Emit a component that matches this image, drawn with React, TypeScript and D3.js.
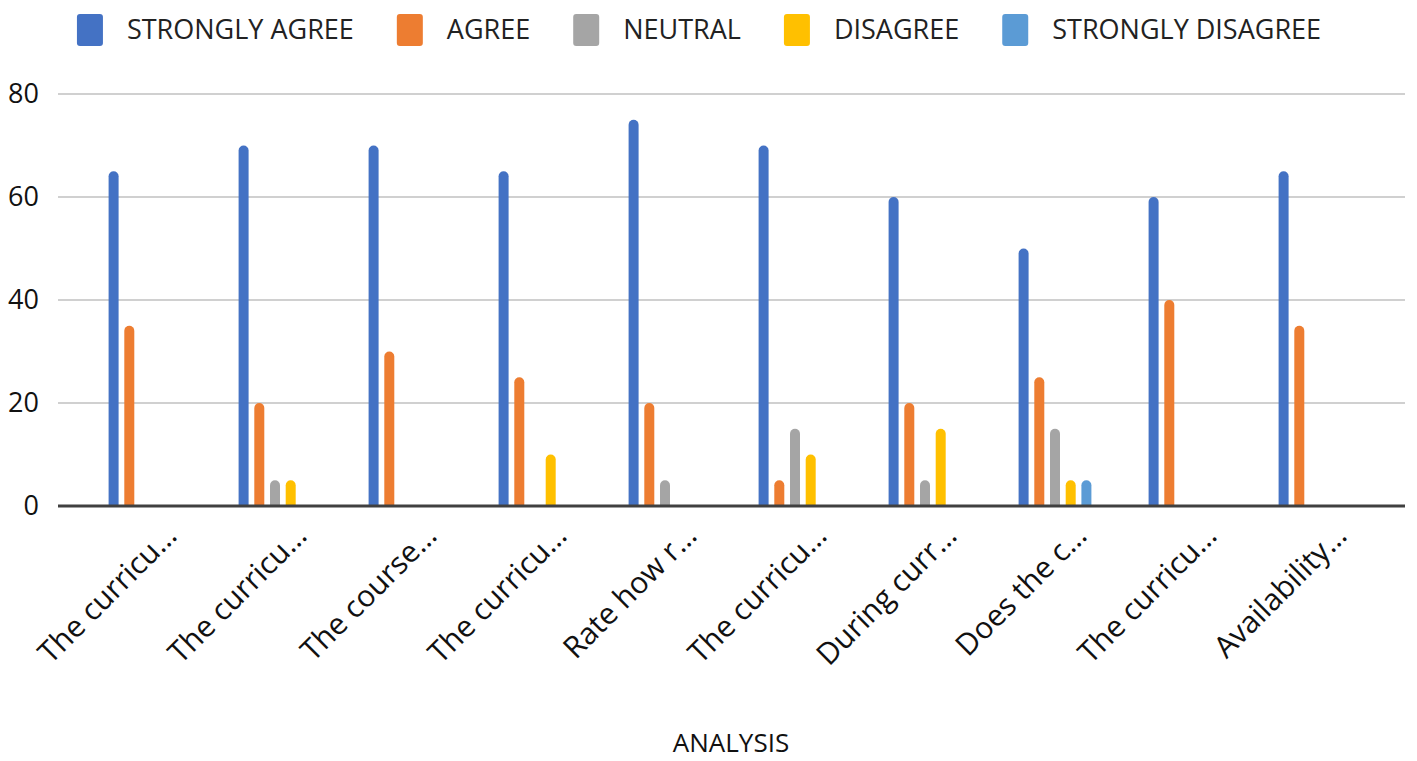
import React, { useEffect, useRef } from "react";
import * as d3 from "d3";

const categories = [
  "The curricu…",
  "The curricu…",
  "The course…",
  "The curricu…",
  "Rate how r…",
  "The curricu…",
  "During curr…",
  "Does the c…",
  "The curricu…",
  "Availability…",
];
const series = ["STRONGLY AGREE", "AGREE", "NEUTRAL", "DISAGREE", "STRONGLY DISAGREE"];
const colors = ["#4472C4", "#ED7D31", "#A5A5A5", "#FFC000", "#5B9BD5"];

const stronglyAgree = [65, 70, 70, 65, 75, 70, 60, 50, 60, 65];
const agree = [35, 20, 30, 25, 20, 5, 20, 25, 40, 35];
const neutral = [0, 5, 0, 0, 5, 15, 5, 15, 0, 0];
const disagree = [0, 5, 0, 10, 0, 10, 15, 5, 0, 0];
const stronglyDisagree = [0, 0, 0, 0, 0, 0, 0, 5, 0, 0];
const yTicks = [0, 20, 40, 60, 80];
const xTitle = "ANALYSIS";

const FONT = "'Open Sans', sans-serif";

const App = () => {
  const svgRef = useRef<SVGSVGElement>(null);

  useEffect(() => {
    const svg = d3.select(svgRef.current);
    svg.selectAll("*").remove();

    const values = [stronglyAgree, agree, neutral, disagree, stronglyDisagree];

    // plot box
    const left = 58;
    const right = 1405;
    const y = d3.scaleLinear().domain([0, 80]).range([506, 94]);
    const x = d3
      .scaleBand<number>()
      .domain(categories.map((_, i) => i))
      .range([80, 1380]);
    const inner = d3
      .scalePoint<string>()
      .domain(series)
      .range([-31.4, 31.4]);
    const barW = 10;

    // gridlines
    svg
      .append("g")
      .selectAll("line")
      .data(yTicks.filter((t) => t !== 0))
      .join("line")
      .attr("x1", left)
      .attr("x2", right)
      .attr("y1", (d) => y(d))
      .attr("y2", (d) => y(d))
      .attr("stroke", "#d0d0d0")
      .attr("stroke-width", 2);

    // y tick labels
    svg
      .append("g")
      .selectAll("text")
      .data(yTicks)
      .join("text")
      .attr("x", 39)
      .attr("y", (d) => y(d))
      .attr("dy", "0.35em")
      .attr("text-anchor", "end")
      .attr("font-family", FONT)
      .attr("font-size", 27)
      .attr("fill", "#111")
      .text((d) => d);

    // bars with rounded tops
    const barPath = (x0: number, top: number, base: number, w: number) => {
      const r = w / 2;
      return `M${x0},${base}L${x0},${top + r}A${r},${r} 0 0 1 ${x0 + w},${top + r}L${x0 + w},${base}Z`;
    };

    series.forEach((s, si) => {
      svg
        .append("g")
        .selectAll("path")
        .data(values[si].map((v, i) => ({ v, i })).filter((d) => d.v > 0))
        .join("path")
        .attr("fill", colors[si])
        .attr("d", (d) => {
          const cx = (x(d.i) as number) + x.bandwidth() / 2 + (inner(s) as number);
          return barPath(cx - barW / 2, y(d.v), y(0), barW);
        });
    });

    // zero axis line
    svg
      .append("line")
      .attr("x1", left)
      .attr("x2", right)
      .attr("y1", y(0))
      .attr("y2", y(0))
      .attr("stroke", "#404040")
      .attr("stroke-width", 3);

    // category labels
    svg
      .append("g")
      .selectAll("text")
      .data(categories)
      .join("text")
      .attr("transform", (_, i) => {
        const cx = (x(i) as number) + x.bandwidth() / 2;
        return `translate(${cx + 26},${y(0) + 24}) rotate(-45)`;
      })
      .attr("text-anchor", "end")
      .attr("dy", "0.35em")
      .attr("font-family", FONT)
      .attr("font-size", 30)
      .attr("fill", "#111")
      .text((d) => d);

    // axis title
    svg
      .append("text")
      .attr("x", 731)
      .attr("y", 743)
      .attr("dy", "0.35em")
      .attr("text-anchor", "middle")
      .attr("font-family", FONT)
      .attr("font-size", 26)
      .attr("fill", "#111")
      .text(xTitle);

    // legend
    const legend = svg.append("g");
    let cursor = 0;
    series.forEach((s, i) => {
      const g = legend.append("g").attr("transform", `translate(${cursor},0)`);
      g.append("rect")
        .attr("x", 0)
        .attr("y", 14)
        .attr("width", 26)
        .attr("height", 32)
        .attr("rx", 3)
        .attr("fill", colors[i]);
      const t = g
        .append("text")
        .attr("x", 50)
        .attr("y", 30)
        .attr("dy", "0.35em")
        .attr("font-family", FONT)
        .attr("font-size", 27)
        .attr("fill", "#222")
        .text(s);
      const len = (t.node() as SVGTextElement).getComputedTextLength();
      cursor += 50 + len + 43;
    });
    const total = cursor - 43;
    legend.attr("transform", `translate(${699 - total / 2},0)`);
  }, []);

  return (
    <div style={{ position: "absolute", left: 0, top: 0 }}>
      <svg ref={svgRef} width={1417} height={761} style={{ display: "block", background: "#fff" }} />
    </div>
  );
};

export default App;
